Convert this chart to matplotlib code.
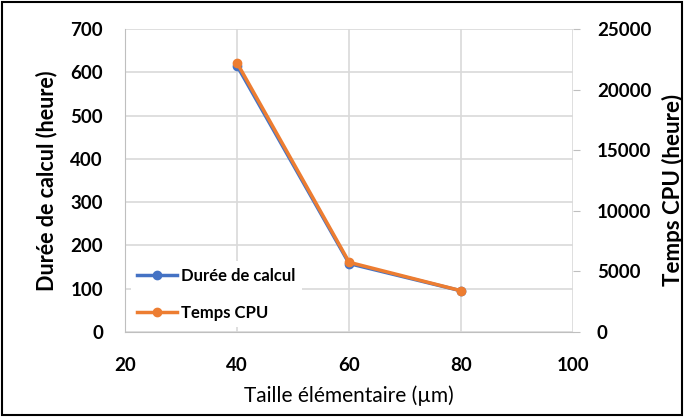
import matplotlib

matplotlib.use("Agg")

import matplotlib.pyplot as plt
from matplotlib.patches import Rectangle

plt.rcParams["font.family"] = ["Lato", "DejaVu Sans"]

taille = [40, 60, 80]
duree_calcul = [615, 158, 95]
temps_cpu = [22200, 5750, 3400]

BLUE = "#4472C4"
ORANGE = "#ED7D31"
GRID = "#D9D9D9"

fig = plt.figure(figsize=(6.84, 4.17), dpi=100)
ax = fig.add_axes([0.183, 0.204, 0.655, 0.726])
ax2 = ax.twinx()

l1, = ax.plot(taille, duree_calcul, color=BLUE, lw=2.5, marker="o", ms=6,
              label="Durée de calcul")
l2, = ax2.plot(taille, temps_cpu, color=ORANGE, lw=2.5, marker="o", ms=6,
               label="Temps CPU")

ax.set_xlim(20, 100)
ax.set_ylim(0, 700)
ax2.set_ylim(0, 25000)
ax.set_xticks([20, 40, 60, 80, 100])
ax.set_yticks(range(0, 701, 100))
ax2.set_yticks(range(0, 25001, 5000))

ax.grid(True, color=GRID, lw=1.2)
ax.set_axisbelow(True)
for a in (ax, ax2):
    for s in a.spines.values():
        s.set_visible(False)
ax.spines["bottom"].set_visible(True)
ax.spines["bottom"].set_color("#BFBFBF")
ax.spines["left"].set_visible(True)
ax.spines["left"].set_color("#BFBFBF")

ax.tick_params(axis="x", length=0, labelsize=13.5, pad=18)
ax.tick_params(axis="y", length=0, labelsize=13.5, pad=16)
ax2.tick_params(axis="y", length=5, color="#BFBFBF", labelsize=13.5, pad=12)
for lab in ax.get_xticklabels() + ax.get_yticklabels() + ax2.get_yticklabels():
    lab.set_fontweight("bold")

ax.set_xlabel("Taille élémentaire (µm)", fontsize=15, labelpad=8)
ax.set_ylabel("Durée de calcul (heure)", fontsize=15.5, fontweight="bold")
ax2.set_ylabel("Temps CPU (heure)", fontsize=16, fontweight="bold")
ax.yaxis.set_label_coords(-0.152, 0.5)
ax2.yaxis.set_label_coords(1.198, 0.47)

leg = ax2.legend(handles=[l1, l2], loc="center left", bbox_to_anchor=(0.012, 0.124),
                 frameon=True, fancybox=False, edgecolor="none", facecolor="white",
                 framealpha=1, fontsize=12, handlelength=2.4, handletextpad=0.2,
                 labelspacing=1.25, borderpad=0.4, borderaxespad=0)
for t in leg.get_texts():
    t.set_fontweight("bold")

fig.patches.append(Rectangle((0.003, 0.004), 0.994, 0.992, transform=fig.transFigure,
                             fill=False, edgecolor="black", lw=1.5))

fig.savefig("out.png", dpi=100)
